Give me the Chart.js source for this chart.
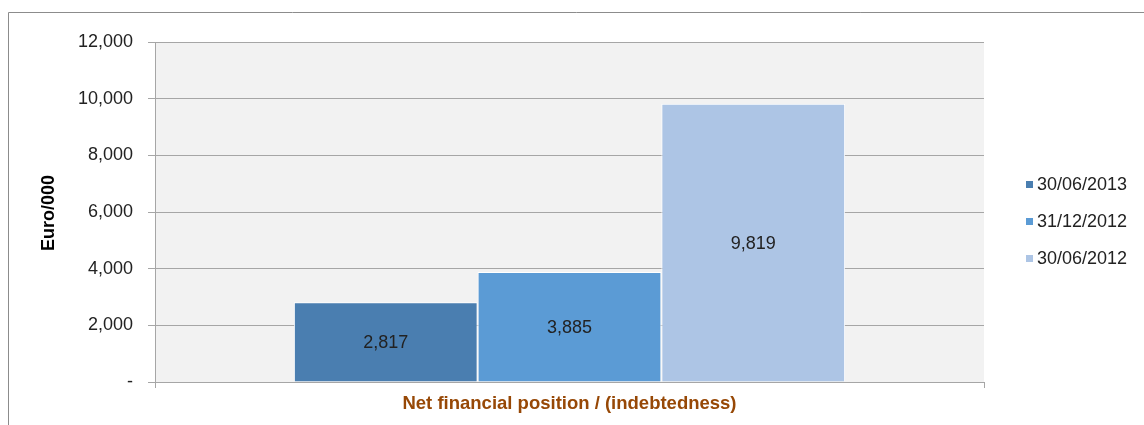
<!DOCTYPE html>
<html>
<head>
<meta charset="utf-8">
<script src="https://cdn.jsdelivr.net/npm/chart.js@4"></script>
<style>
    html, body { margin: 0; padding: 0; background: #ffffff; }
    #chartBox { width: 1144px; height: 425px; }
</style>
</head>
<body>
<div id="chartBox"><canvas id="netPositionChart" width="1144" height="425"></canvas></div>
<script>
// --- DATA ---
const categories = ['Net financial position / (indebtedness)'];
const seriesLabels = ['30/06/2013', '31/12/2012', '30/06/2012'];
const values2013Jun = [2817];
const values2012Dec = [3885];
const values2012Jun = [9819];
const yTicks = [0, 2000, 4000, 6000, 8000, 10000, 12000];

const seriesColors = ['#4a7eb0', '#5b9bd5', '#adc5e5'];
const FONT = "'Liberation Sans', Arial, sans-serif";

function fmt(v) {
    return v === 0 ? '-' : v.toLocaleString('en-US');
}

// background, frame, titles, labels and legend
const decorPlugin = {
    id: 'decor',
    beforeDraw(chart) {
        const ctx = chart.ctx;
        const a = chart.chartArea;
        ctx.save();
        ctx.fillStyle = '#ffffff';
        ctx.fillRect(0, 0, chart.width, chart.height);
        // outer frame
        ctx.strokeStyle = '#8c8c8c';
        ctx.lineWidth = 1;
        ctx.beginPath();
        ctx.moveTo(8.5, chart.height);
        ctx.lineTo(8.5, 12.5);
        ctx.lineTo(chart.width, 12.5);
        ctx.stroke();
        // plot area
        ctx.fillStyle = '#f2f2f2';
        ctx.fillRect(a.left, a.top, a.right - a.left, a.bottom - a.top);
        ctx.restore();
    },
    afterDatasetsDraw(chart) {
        const ctx = chart.ctx;
        const a = chart.chartArea;
        ctx.save();

        // value labels in the middle of each bar
        ctx.font = '18px ' + FONT;
        ctx.fillStyle = '#222222';
        ctx.textAlign = 'center';
        ctx.textBaseline = 'middle';
        chart.data.datasets.forEach((ds, i) => {
            chart.getDatasetMeta(i).data.forEach((bar, j) => {
                const yMid = (bar.y + bar.base) / 2;
                ctx.fillText(fmt(ds.data[j]), bar.x, yMid + 1);
            });
        });

        // y axis title
        ctx.save();
        ctx.translate(49, (a.top + a.bottom) / 2 + 1);
        ctx.rotate(-Math.PI / 2);
        ctx.font = 'bold 18px ' + FONT;
        ctx.fillStyle = '#000000';
        ctx.fillText('Euro/000', 0, 0);
        ctx.restore();

        // x axis title
        ctx.font = 'bold 18.5px ' + FONT;
        ctx.fillStyle = '#974806';
        ctx.fillText(categories[0], (a.left + a.right) / 2, 404);

        // legend
        ctx.textAlign = 'left';
        ctx.font = '18px ' + FONT;
        chart.data.datasets.forEach((ds, i) => {
            const y = 185 + i * 37;
            ctx.fillStyle = ds.backgroundColor;
            ctx.fillRect(1026, y - 4, 7, 7);
            ctx.fillStyle = '#222222';
            ctx.fillText(ds.label, 1037, y);
        });
        ctx.restore();
    }
};

new Chart(document.getElementById('netPositionChart').getContext('2d'), {
    type: 'bar',
    data: {
        labels: categories,
        datasets: [
            { label: seriesLabels[0], data: values2013Jun, backgroundColor: seriesColors[0] },
            { label: seriesLabels[1], data: values2012Dec, backgroundColor: seriesColors[1] },
            { label: seriesLabels[2], data: values2012Jun, backgroundColor: seriesColors[2] }
        ].map(ds => Object.assign(ds, {
            borderColor: '#ffffff',
            borderWidth: 1,
            categoryPercentage: 0.665,
            barPercentage: 1.0
        }))
    },
    options: {
        responsive: false,
        animation: false,
        layout: { padding: { top: 42, right: 160, bottom: 43, left: 0 } },
        plugins: {
            legend: { display: false },
            tooltip: { enabled: false }
        },
        scales: {
            y: {
                min: 0,
                max: 12000,
                afterBuildTicks(scale) { scale.ticks = yTicks.map(v => ({ value: v })); },
                afterFit(scale) { scale.width = 155; },
                ticks: {
                    font: { family: FONT, size: 18 },
                    color: '#222222',
                    padding: 15,
                    callback: v => fmt(v)
                },
                grid: { color: '#a6a6a6', tickLength: 7 },
                border: { color: '#a6a6a6' }
            },
            x: {
                afterFit(scale) { scale.height = 0; },
                ticks: { display: false },
                grid: { drawOnChartArea: false, color: '#a6a6a6', tickLength: 6 },
                border: { color: '#a6a6a6' }
            }
        }
    },
    plugins: [decorPlugin]
});
</script>
</body>
</html>
